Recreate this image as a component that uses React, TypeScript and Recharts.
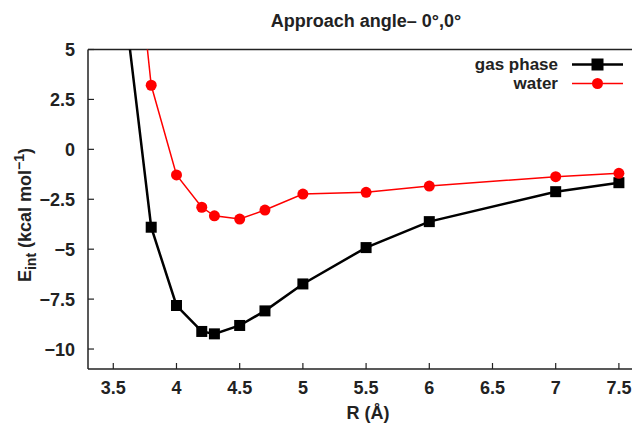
import React from "react";
import { LineChart, Line, XAxis, YAxis, ReferenceLine } from "recharts";

const R = [3.6, 3.8, 4.0, 4.2, 4.3, 4.5, 4.7, 5.0, 5.5, 6.0, 7.0, 7.5];
const gasPhase = [6.7, -3.9, -7.82, -9.12, -9.24, -8.82, -8.09, -6.74, -4.92, -3.62, -2.12, -1.67];
const water = [15.2, 3.21, -1.28, -2.9, -3.33, -3.49, -3.04, -2.24, -2.15, -1.84, -1.37, -1.2];
const xTicks = [3.5, 4, 4.5, 5, 5.5, 6, 6.5, 7, 7.5];
const yTicks = [5, 2.5, 0, -2.5, -5, -7.5, -10];

const Y_MIN = -11;
const Y_MAX = 5;

const data = R.map((r, i) => ({ r, gas: gasPhase[i], water: water[i] }));

const FONT = "'Liberation Sans', Arial, Helvetica, sans-serif";
const TXT = "#222";
const FS = 18;

const W = 652;
const H = 416;

const fmt = (v: number) => (v < 0 ? "\u2212" + String(Math.abs(v)) : String(v));

const XTick = (props: any) => {
  const { x, y, payload } = props;
  return (
    <g>
      <line x1={x} x2={x} y1={y} y2={y - 6} stroke="#222" strokeWidth={1.2} />
      <text x={x} y={y + 24.5} textAnchor="middle" fontFamily={FONT} fontWeight="bold" fontSize={FS} fill={TXT}>
        {fmt(payload.value)}
      </text>
    </g>
  );
};

const YTick = (props: any) => {
  const { x, y, payload } = props;
  return (
    <g>
      <line x1={x} x2={x + 6} y1={y} y2={y} stroke="#222" strokeWidth={1.2} />
      <text x={x - 13} y={y + 6.5} textAnchor="end" fontFamily={FONT} fontWeight="bold" fontSize={FS} fill={TXT}>
        {fmt(payload.value)}
      </text>
    </g>
  );
};

const SquareDot = (props: any) => {
  const { cx, cy, value, index } = props;
  if (cx == null || cy == null || value > Y_MAX) return <g key={`s${index}`} />;
  return <rect key={`s${index}`} x={cx - 5.5} y={cy - 5.5} width={11} height={11} fill="#000" />;
};

const CircleDot = (props: any) => {
  const { cx, cy, value, index } = props;
  if (cx == null || cy == null || value > Y_MAX) return <g key={`c${index}`} />;
  return <circle key={`c${index}`} cx={cx} cy={cy} r={5.5} fill="#ff0000" />;
};

const legendItems = [
  { name: "gas phase", color: "#000", width: 2.5, marker: "square" },
  { name: "water", color: "#ff0000", width: 1.5, marker: "circle" },
];

export default function App() {
  return (
    <div style={{ width: 632, height: H, overflow: "hidden" }}>
      <div style={{ position: "relative", width: W, height: H }}>
        <LineChart
          width={W}
          height={H}
          data={data}
          margin={{ top: 41.5, right: 9.5, bottom: 25, left: 20 }}
        >
          <XAxis
            dataKey="r"
            type="number"
            domain={[3.3, 7.75]}
            ticks={xTicks}
            allowDataOverflow
            height={30}
            tickLine={false}
            tickSize={0}
            tickMargin={0}
            tick={<XTick />}
            axisLine={{ stroke: "#222", strokeWidth: 1.5 }}
            interval={0}
          />
          <YAxis
            type="number"
            domain={[Y_MIN, Y_MAX]}
            ticks={yTicks}
            allowDataOverflow
            width={60}
            tickLine={false}
            tickSize={0}
            tickMargin={0}
            tick={<YTick />}
            axisLine={{ stroke: "#222", strokeWidth: 1.5 }}
            interval={0}
          />
          <ReferenceLine y={Y_MAX} stroke="#222" strokeWidth={1.5} ifOverflow="visible" />
          <Line
            dataKey="gas"
            stroke="#000"
            strokeWidth={2.5}
            dot={<SquareDot />}
            activeDot={false}
            isAnimationActive={false}
          />
          <Line
            dataKey="water"
            stroke="#ff0000"
            strokeWidth={1.5}
            dot={<CircleDot />}
            activeDot={false}
            isAnimationActive={false}
          />
        </LineChart>

        <div
          style={{
            position: "absolute",
            left: 208,
            top: 3,
            width: 300,
            textAlign: "center",
            fontFamily: FONT,
            fontWeight: "bold",
            fontSize: FS,
            lineHeight: "20px",
            color: TXT,
          }}
        >
          Approach angle– 0°,0°
        </div>

        <div
          style={{
            position: "absolute",
            left: 260,
            top: 395,
            width: 200,
            textAlign: "center",
            fontFamily: FONT,
            fontWeight: "bold",
            fontSize: FS,
            lineHeight: "20px",
            color: TXT,
          }}
        >
          R (Å)
        </div>

        <svg style={{ position: "absolute", left: 0, top: 0 }} width={60} height={H}>
          <text
            transform="translate(23,207) rotate(-90)"
            textAnchor="middle"
            fontFamily={FONT}
            fontWeight="bold"
            fontSize={FS}
            fill={TXT}
          >
            E<tspan fontSize={14} dy={5}>int</tspan>
            <tspan dy={-5}> (kcal mol</tspan>
            <tspan fontSize={14} dy={-7}>−1</tspan>
            <tspan dy={7}>)</tspan>
          </text>
        </svg>

        <div style={{ position: "absolute", left: 420, top: 46.5, width: 220 }}>
          {legendItems.map((it) => (
            <div key={it.name} style={{ display: "flex", alignItems: "center", height: 19.5 }}>
              <div
                style={{
                  width: 130,
                  textAlign: "right",
                  fontFamily: FONT,
                  fontWeight: "bold",
                  fontSize: 17,
                  color: TXT,
                  lineHeight: "19.5px",
                }}
              >
                {it.name}
              </div>
              <svg width={51} height={19} style={{ marginLeft: 13.7 }}>
                <line x1={0} x2={51} y1={9.5} y2={9.5} stroke={it.color} strokeWidth={it.width} />
                {it.marker === "square" ? (
                  <rect x={19.5} y={3.5} width={12} height={12} fill={it.color} />
                ) : (
                  <circle cx={25.5} cy={9.5} r={5.5} fill={it.color} />
                )}
              </svg>
            </div>
          ))}
        </div>
      </div>
    </div>
  );
}
